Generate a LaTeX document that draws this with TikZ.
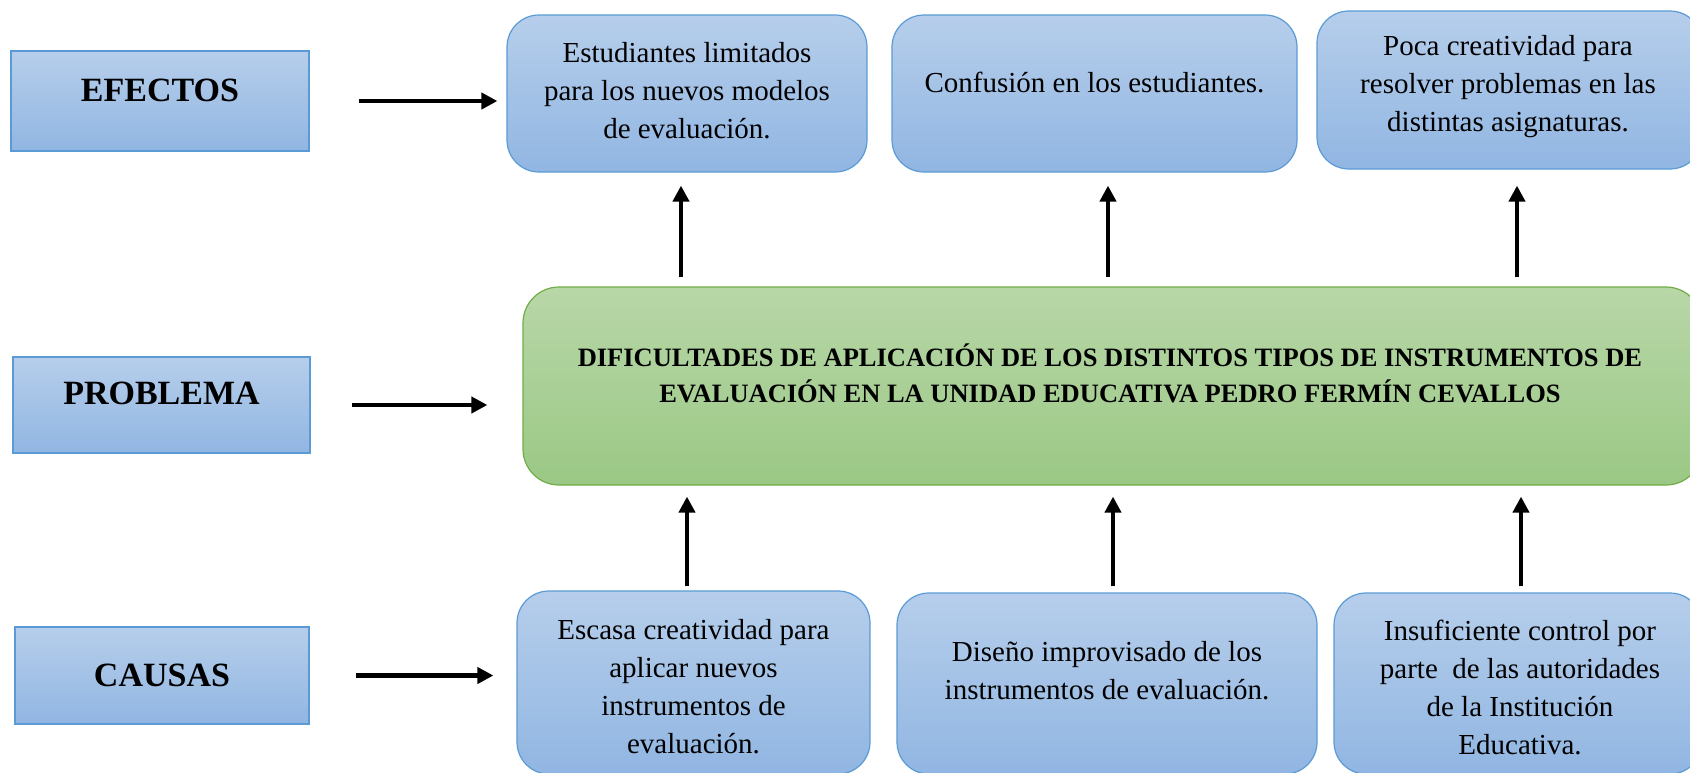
\documentclass[tikz,border=0pt]{standalone}
\usepackage{fontspec}
\setmainfont{Liberation Serif}
\usetikzlibrary{arrows.meta,calc}
\definecolor{bluetop}{RGB}{182,206,235}
\definecolor{bluebot}{RGB}{145,182,226}
\definecolor{blueline}{RGB}{91,155,213}
\definecolor{greentop}{RGB}{184,215,168}
\definecolor{greenbot}{RGB}{155,200,133}
\definecolor{greenline}{RGB}{112,173,71}
\tikzset{
  labelbox/.style={draw=blueline, line width=1.2pt, top color=bluetop, bottom color=bluebot, inner sep=0pt},
  bluebox/.style={labelbox, rounded corners=32pt},
  greenbox/.style={draw=greenline, line width=1.2pt, top color=greentop, bottom color=greenbot, rounded corners=36pt, inner sep=0pt},
  txt/.style={align=center, inner sep=0pt, font=\fontsize{29}{38}\selectfont},
  labeltxt/.style={inner sep=0pt, font=\fontsize{34}{40}\selectfont\bfseries},
  probtxt/.style={align=center, inner sep=0pt, font=\fontsize{26.5}{36}\selectfont\bfseries},
  arr/.style={line width=4.3pt, -{Triangle[length=16pt,width=16pt]}},
}
\begin{document}
\begin{tikzpicture}[x=1pt,y=-1pt]
\useasboundingbox (0,0) rectangle (1690,772);
\clip (0,0) rectangle (1690,772);
\fill[white] (0,0) rectangle (1690,772);
% left label boxes
\node[labelbox, minimum width=298pt, minimum height=100pt] (efectos) at (160,101) {};
\node[labelbox, minimum width=297pt, minimum height=96pt] (problema) at (161.5,405) {};
\node[labelbox, minimum width=294pt, minimum height=97pt] (causas) at (162,675.5) {};
\node[labeltxt] (tefectos) at (160,90) {EFECTOS};
\node[labeltxt] (tproblema) at (161.5,393) {PROBLEMA};
\node[labeltxt] (tcausas) at (162,675) {CAUSAS};
% effects
\node[bluebox, minimum width=360pt, minimum height=157pt] (e1) at (687,93.5) {};
\node[bluebox, minimum width=405pt, minimum height=157pt] (e2) at (1094.5,93.5) {};
\node[bluebox, minimum width=385pt, minimum height=158pt] (e3) at (1509.5,90) {};
\node[txt] (te1) at (687,91) {Estudiantes limitados\\para los nuevos modelos\\de evaluación.};
\node[txt] (te2) at (1094.5,82) {Confusión en los estudiantes.};
\node[txt] (te3) at (1508,87) {Poca creatividad para\\resolver problemas en las\\distintas asignaturas.};
% problem
\node[greenbox, minimum width=1179pt, minimum height=198pt] (prob) at (1112.5,386) {};
\node[probtxt] (tprob) at (1110,373) {DIFICULTADES DE APLICACIÓN DE LOS DISTINTOS TIPOS DE INSTRUMENTOS DE\\EVALUACIÓN EN LA UNIDAD EDUCATIVA PEDRO FERMÍN CEVALLOS};
% causes
\node[bluebox, minimum width=353pt, minimum height=183pt] (c1) at (693.5,682.5) {};
\node[bluebox, minimum width=420pt, minimum height=181pt] (c2) at (1107,683.5) {};
\node[bluebox, minimum width=368pt, minimum height=181pt] (c3) at (1518,683.5) {};
\node[txt] (tc1) at (693.5,687) {Escasa creatividad para\\aplicar nuevos\\instrumentos de\\evaluación.};
\node[txt] (tc2) at (1107,671) {Diseño improvisado de los\\instrumentos de evaluación.};
\node[txt] (tc3) at (1520,687) {Insuficiente control por\\parte\ \ de las autoridades\\de la Institución\\Educativa.};
% horizontal arrows
\draw[arr, shorten <=49pt, shorten >=9pt] (efectos.east) -- (efectos.east -| e1.west);
\draw[arr, shorten <=41pt, shorten >=35pt] (problema.east) -- (problema.east -| prob.west);
\draw[arr, shorten <=46pt, shorten >=23pt] (causas.east) -- (causas.east -| c1.west);
% vertical arrows (problem -> effects)
\draw[arr] ($(prob.north -| e1.south)+(-6,-9)$) -- ($(e1.south)+(-6,13)$);
\draw[arr] ($(prob.north -| e2.south)+(13.5,-9)$) -- ($(e2.south)+(13.5,13)$);
\draw[arr] ($(prob.north -| e3.south)+(7.5,-9)$) -- ($(e3.south)+(7.5,16)$);
% vertical arrows (causes -> problem)
\draw[arr] ($(c1.north)+(-6.5,-4)$) -- ($(prob.south -| c1.north)+(-6.5,11)$);
\draw[arr] ($(c2.north)+(6,-6)$) -- ($(prob.south -| c2.north)+(6,11)$);
\draw[arr] ($(c3.north)+(3,-6)$) -- ($(prob.south -| c3.north)+(3,11)$);
\end{tikzpicture}
\end{document}
